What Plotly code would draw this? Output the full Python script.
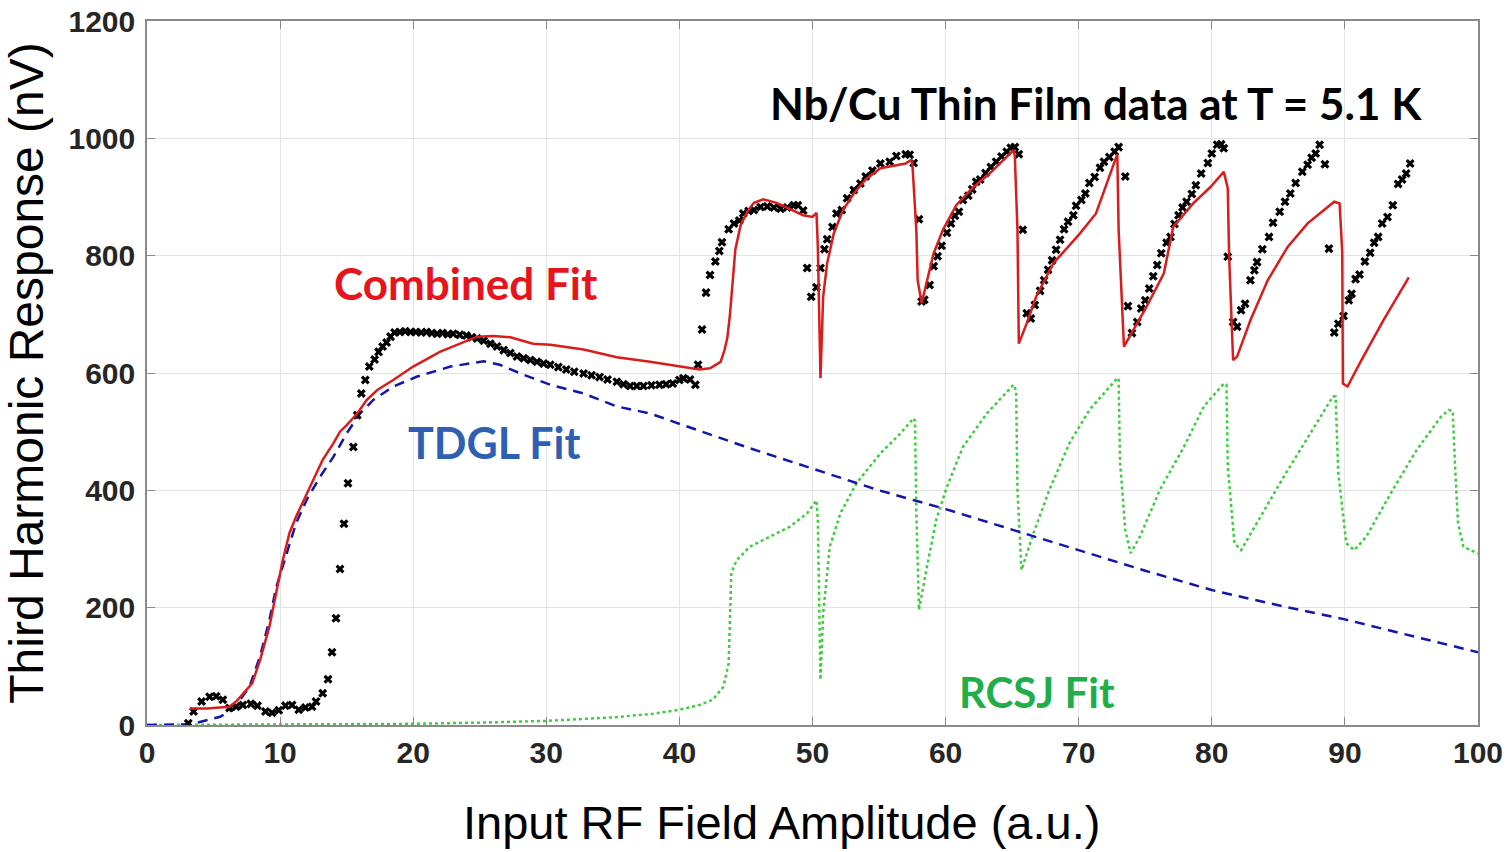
import plotly.graph_objects as go

# Measured third-harmonic data (black crosses)
data_x = [3.1, 3.5, 4.1, 4.7, 5.2, 5.7, 6.2, 6.7, 7.2, 7.8, 8.3, 8.9, 9.4, 9.9, 10.4, 10.9,
          11.4, 11.9, 12.4, 12.7, 13.2, 13.6, 13.9, 14.2, 14.5, 14.8, 15.1, 15.5, 15.8, 16.1,
          16.4, 16.7, 17.1, 17.4, 17.7, 18.0, 18.3, 18.6, 19.0, 19.4, 19.8, 20.2, 20.6, 21.0,
          21.4, 21.8, 22.2, 22.6, 23.0, 23.5, 24.0, 24.4, 24.8, 25.3, 25.8, 26.3, 26.8, 27.3,
          27.8, 28.3, 28.8, 29.3, 29.8, 30.3, 30.9, 31.5, 32.1, 32.8, 33.4, 34.0, 34.6, 35.3,
          35.8, 36.3, 36.8, 37.3, 37.9, 38.5, 39.0, 39.5, 40.0, 40.3, 40.8, 41.2, 41.4, 41.7,
          42.0, 42.3, 42.7, 43.0, 43.2, 43.7, 44.1, 44.5, 44.8, 45.2, 45.6, 46.1, 46.6, 47.1,
          47.6, 48.1, 48.6, 48.9, 49.3, 49.6, 49.9, 50.3, 50.6, 50.9, 51.1, 51.5, 51.8, 52.2,
          52.6, 53.1, 53.6, 54.0, 54.5, 55.1, 55.8, 56.3, 57.0, 57.3, 57.6, 58.0, 58.2, 58.4,
          58.8, 59.1, 59.4, 59.7, 60.1, 60.4, 60.7, 61.0, 61.3, 61.7, 62.0, 62.3, 62.6, 63.0,
          63.4, 63.8, 64.2, 64.6, 64.9, 65.2, 65.5, 65.8, 66.1, 66.4, 66.7, 67.1, 67.4, 67.7,
          68.0, 68.3, 68.6, 68.9, 69.2, 69.6, 69.8, 70.2, 70.5, 70.8, 71.2, 71.6, 71.9, 72.3,
          72.7, 73.0, 73.5, 73.7, 74.0, 74.4, 74.7, 75.0, 75.3, 75.6, 75.9, 76.2, 76.6, 76.9,
          77.2, 77.5, 77.8, 78.1, 78.5, 78.8, 79.2, 79.7, 80.0, 80.4, 80.7, 80.9, 81.2, 81.6,
          81.9, 82.2, 82.5, 82.9, 83.2, 83.4, 83.8, 84.3, 84.6, 85.1, 85.5, 85.9, 86.3, 86.8,
          87.2, 87.5, 87.8, 88.1, 88.5, 88.8, 89.2, 89.5, 89.9, 90.3, 90.5, 90.8, 91.1, 91.5,
          91.9, 92.2, 92.5, 92.8, 93.2, 93.6, 94.0, 94.3, 94.6, 94.9]
data_y = [3, 23, 40, 48, 49, 43, 29, 31, 34, 36, 33, 23, 21, 25, 33, 34,
          26, 30, 31, 40, 54, 78, 124, 182, 266, 343, 412, 474, 528, 565,
          588, 611, 623, 636, 645, 652, 662, 669, 670, 671, 670, 670, 669, 670,
          668, 667, 668, 666, 667, 665, 664, 661, 659, 655, 650, 645, 639, 634,
          628, 625, 622, 619, 616, 614, 610, 606, 602, 599, 596, 593, 589, 585,
          581, 578, 578, 578, 579, 580, 581, 582, 588, 591, 589, 580, 614, 674,
          737, 767, 790, 808, 823, 845, 855, 860, 872, 876, 878, 883, 884, 882,
          880, 882, 886, 886, 877, 779, 730, 746, 779, 811, 828, 849, 872, 878,
          898, 912, 923, 935, 945, 957, 960, 970, 973, 972, 958, 862, 722, 725,
          750, 782, 799, 817, 839, 855, 868, 875, 895, 902, 913, 926, 930, 941,
          951, 960, 969, 977, 984, 985, 973, 844, 702, 693, 716, 740, 758, 776,
          792, 810, 827, 845, 858, 869, 885, 895, 906, 924, 934, 950, 960, 968,
          977, 985, 935, 714, 668, 687, 710, 724, 744, 765, 784, 804, 822, 832,
          854, 869, 882, 892, 905, 920, 940, 958, 974, 989, 990, 983, 798, 687,
          679, 707, 718, 758, 775, 789, 811, 832, 856, 875, 892, 906, 924, 943,
          955, 967, 974, 989, 956, 812, 669, 684, 697, 724, 735, 760, 768, 790,
          805, 822, 832, 855, 866, 886, 922, 930, 940, 957]

# Combined fit (red)
comb_x = [3.2, 4.5, 6.2, 6.7, 7.9, 8.5, 9.2, 9.7, 10.2, 10.7, 11.2, 11.9, 12.5, 13.2, 14.0,
          14.5, 15.0, 15.8, 16.5, 17.3, 18.5, 20.0, 22.0, 24.8, 26.0, 27.3, 29.0, 30.3, 32.8,
          35.3, 37.8, 40.3, 41.5, 42.3, 43.1, 43.4, 43.6, 43.8, 44.0, 44.2, 44.6, 45.1, 45.6,
          46.3, 47.3, 48.3, 49.3, 50.0, 50.3, 50.4, 50.6, 50.8, 51.1, 51.6, 52.3, 53.1, 54.0,
          55.1, 56.3, 57.0, 57.4, 57.5, 57.8, 57.9, 58.2, 58.6, 59.1, 59.8, 60.8, 62.1, 63.3,
          65.1, 65.2, 65.4, 65.5, 66.1, 66.8, 68.1, 70.1, 71.3, 72.9, 73.0, 73.4, 74.1, 75.1,
          76.4, 77.1, 78.6, 79.9, 80.9, 81.2, 81.3, 81.6, 81.9, 82.9, 84.2, 85.7, 87.2, 89.2,
          89.6, 89.8, 89.85, 90.2, 91.1, 92.9, 94.8]
comb_y = [28, 28, 31, 40, 71, 111, 168, 224, 281, 327, 355, 389, 418, 452, 480,
          500, 511, 531, 554, 571, 588, 611, 636, 662, 663, 661, 650, 648, 640,
          627, 619, 611, 606, 608, 619, 640, 660, 700, 759, 810, 852, 875, 890,
          896, 890, 880, 869, 866, 873, 816, 591, 730, 787, 838, 878, 906, 930,
          949, 954, 957, 963, 958, 844, 758, 719, 758, 804, 844, 886, 917, 940,
          980, 970, 844, 650, 685, 730, 787, 838, 872, 973, 844, 645, 673, 713,
          770, 849, 889, 917, 943, 915, 800, 622, 628, 690, 758, 815, 855, 892,
          889, 806, 582, 577, 616, 690, 763]

# TDGL fit (blue dashed)
tdgl_x = [0, 3.0, 3.8, 5.5, 6.5, 7.7, 8.5, 9.2, 9.7, 10.5, 11.2, 12.0, 13.0, 14.0, 15.0,
          16.0, 17.0, 18.5, 20.3, 22.8, 25.3, 26.5, 28.3, 30.3, 32.8, 35.3, 37.8, 40.3,
          45.0, 50.0, 55.0, 60.0, 65.0, 70.0, 75.0, 80.0, 85.0, 90.0, 95.0, 100.0]
tdgl_y = [0, 1, 4, 14, 28, 65, 118, 179, 234, 293, 344, 384, 423, 457, 497,
          531, 554, 577, 594, 611, 620, 614, 597, 580, 565, 543, 531, 511,
          474, 437, 400, 368, 333, 298, 263, 230, 204, 180, 152, 124]

# RCSJ fit (green dotted)
rcsj_x = [0, 10, 20, 25, 30, 35, 38, 40.0, 41.5, 42.5, 43.3, 43.7, 43.8, 43.9, 44.3, 45.3,
          46.8, 48.3, 49.6, 50.3, 50.4, 50.6, 50.8, 51.3, 52.1, 53.3, 55.1, 56.6, 57.6, 57.7,
          57.8, 58.0, 58.6, 59.3, 60.1, 61.3, 63.1, 65.1, 65.3, 65.4, 65.7, 66.6, 67.8, 69.3,
          70.8, 72.9, 73.0, 73.1, 73.5, 73.9, 74.6, 76.1, 77.9, 79.4, 80.9, 81.1, 81.2, 81.7,
          82.2, 83.4, 85.4, 87.4, 89.1, 89.3, 89.5, 90.1, 90.7, 91.6, 93.6, 95.4, 97.2, 97.8,
          98.1, 98.3, 98.5, 98.9, 100.0]
rcsj_y = [0, 0.5, 2, 4, 7, 13, 19, 26, 34, 43, 65, 105, 190, 259, 281, 304,
          321, 338, 361, 383, 350, 77, 190, 304, 361, 412, 463, 497, 523, 518,
          364, 196, 270, 350, 406, 474, 531, 580, 570, 400, 264, 327, 401, 480,
          537, 591, 591, 450, 332, 293, 321, 401, 474, 543, 582, 580, 440, 310,
          298, 344, 423, 497, 560, 560, 430, 310, 298, 321, 401, 469, 525, 537,
          535, 430, 344, 304, 292]

x_ticks = [0, 10, 20, 30, 40, 50, 60, 70, 80, 90, 100]
y_ticks = [0, 200, 400, 600, 800, 1000, 1200]

fig = go.Figure()
fig.add_trace(go.Scatter(x=rcsj_x, y=rcsj_y, mode="lines",
                         line=dict(color="#3ccf3c", width=2.5, dash="dot")))
fig.add_trace(go.Scatter(x=tdgl_x, y=tdgl_y, mode="lines",
                         line=dict(color="#1515a8", width=2.5, dash="10px,7px")))
fig.add_trace(go.Scatter(x=data_x, y=data_y, mode="markers",
                         marker=dict(symbol="x", size=8, color="black",
                                     line=dict(width=0))))
fig.add_trace(go.Scatter(x=comb_x, y=comb_y, mode="lines",
                         line=dict(color="#d91c1c", width=2.5)))

label_font = "Lato, 'Open Sans', sans-serif"
fig.add_annotation(x=71.3, y=1060, text="<b>Nb/Cu Thin Film data at T = 5.1 K</b>",
                   showarrow=False, font=dict(family=label_font, size=44, color="black"))
fig.add_annotation(x=24, y=754, text="<b>Combined Fit</b>",
                   showarrow=False, font=dict(family=label_font, size=44, color="#e8141c"))
fig.add_annotation(x=26.1, y=482, text="<b>TDGL Fit</b>",
                   showarrow=False, font=dict(family=label_font, size=43, color="#2f5fb3"))
fig.add_annotation(x=66.9, y=56, text="<b>RCSJ Fit</b>",
                   showarrow=False, font=dict(family=label_font, size=42, color="#1fae4a"))

# x-axis title, placed slightly left of the plot centre
fig.add_annotation(xref="paper", yref="paper", x=0.4765, y=-0.138, yanchor="middle",
                   text="Input RF Field Amplitude (a.u.)", showarrow=False,
                   font=dict(family="'Liberation Sans', Arial, sans-serif",
                             size=47, color="black"))

axis_common = dict(showgrid=True, gridcolor="#e3e3e3", gridwidth=1,
                   showline=True, linecolor="#8a8a8a", linewidth=1.5, mirror="ticks",
                   ticks="inside", ticklen=8, tickcolor="#8a8a8a", zeroline=False,
                   automargin=False,
                   tickfont=dict(family="'Liberation Sans', Arial, sans-serif",
                                 size=30, color="#262626", weight="bold"))
fig.update_xaxes(range=[0, 100], tickvals=x_ticks, ticktext=[str(v) for v in x_ticks],
                 ticklabelstandoff=0, **axis_common)
fig.update_yaxes(range=[0, 1200], tickvals=y_ticks, ticktext=[str(v) for v in y_ticks],
                 ticklabelstandoff=4,
                 title=dict(text="Third Harmonic Response (nV)", standoff=12,
                            font=dict(family="'Liberation Sans', Arial, sans-serif",
                                      size=48, color="black")),
                 **axis_common)
fig.update_layout(width=1507, height=852, showlegend=False,
                  margin=dict(l=147, r=29, t=21, b=127),
                  plot_bgcolor="white", paper_bgcolor="white")
fig.write_html("out.html")
